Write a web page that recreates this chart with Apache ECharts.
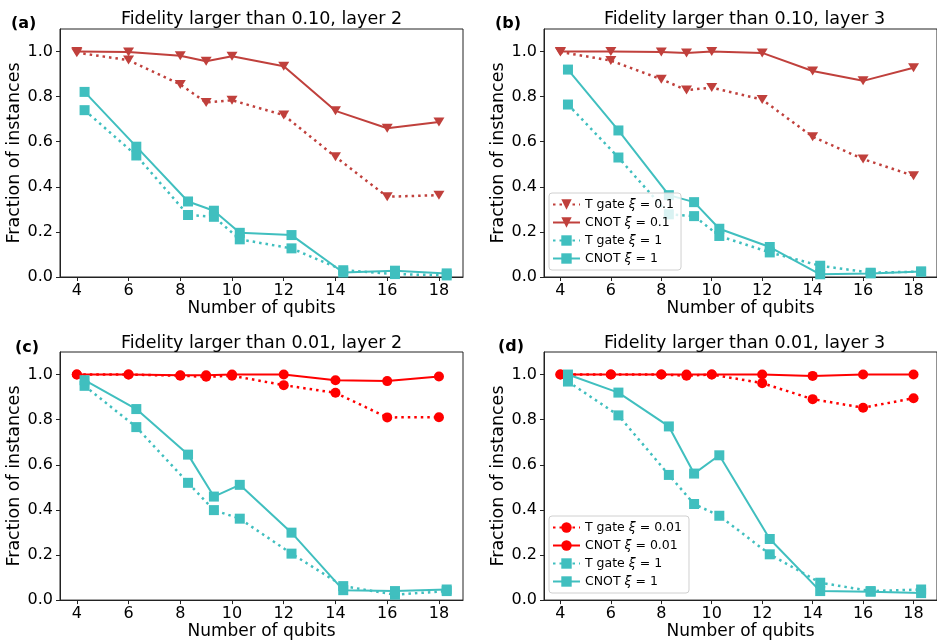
<!DOCTYPE html>
<html>
<head>
<meta charset="utf-8">
<script src="https://cdn.jsdelivr.net/npm/echarts@6/dist/echarts.min.js"></script>
<style>
  html, body { margin: 0; padding: 0; background: #fff; }
  #chart { width: 937px; height: 641px; }
</style>
</head>
<body>
<div id="chart"></div>
<script>
// x positions: red markers sit on the qubit count, teal ones are shifted a bit right
var qubits = [4, 6, 8, 9, 10, 12, 14, 16, 18]
var qubitsShifted = [4.3, 6.3, 8.3, 9.3, 10.3, 12.3, 14.3, 16.3, 18.3]

var xTicks = [4, 6, 8, 10, 12, 14, 16, 18]
var yTicks = [0, 0.2, 0.4, 0.6, 0.8, 1.0]

// (a) fidelity > 0.10, layer 2
var aTgateRed = [0.995, 0.962, 0.854, 0.774, 0.784, 0.718, 0.533, 0.356, 0.363]
var aCnotRed = [1.0, 0.998, 0.981, 0.957, 0.979, 0.935, 0.737, 0.660, 0.687]
var aTgateTeal = [0.740, 0.539, 0.275, 0.267, 0.167, 0.127, 0.030, 0.013, 0.007]
var aCnotTeal = [0.821, 0.578, 0.335, 0.294, 0.196, 0.186, 0.020, 0.028, 0.016]

// (b) fidelity > 0.10, layer 3
var bTgateRed = [0.998, 0.960, 0.877, 0.829, 0.840, 0.787, 0.622, 0.523, 0.449]
var bCnotRed = [1.0, 1.0, 0.998, 0.994, 1.0, 0.994, 0.914, 0.870, 0.928]
var bTgateTeal = [0.765, 0.530, 0.278, 0.270, 0.182, 0.109, 0.050, 0.019, 0.024]
var bCnotTeal = [0.920, 0.650, 0.363, 0.332, 0.214, 0.133, 0.012, 0.016, 0.024]

// (c) fidelity > 0.01, layer 2
var cTgateRed = [1.0, 1.0, 0.995, 0.990, 0.995, 0.953, 0.919, 0.810, 0.811]
var cCnotRed = [1.0, 1.0, 0.997, 0.997, 1.0, 1.0, 0.975, 0.971, 0.991]
var cTgateTeal = [0.950, 0.767, 0.520, 0.399, 0.361, 0.206, 0.062, 0.024, 0.040]
var cCnotTeal = [0.975, 0.847, 0.645, 0.459, 0.511, 0.299, 0.044, 0.040, 0.047]

// (d) fidelity > 0.01, layer 3
var dTgateRed = [1.0, 1.0, 1.0, 0.995, 1.0, 0.962, 0.891, 0.853, 0.895]
var dCnotRed = [1.0, 1.0, 1.0, 1.0, 1.0, 1.0, 0.994, 1.0, 1.0]
var dTgateTeal = [0.969, 0.819, 0.555, 0.426, 0.374, 0.203, 0.077, 0.040, 0.047]
var dCnotTeal = [1.0, 0.920, 0.770, 0.561, 0.642, 0.271, 0.040, 0.037, 0.031]

var titles = [
  'Fidelity larger than 0.10, layer 2',
  'Fidelity larger than 0.10, layer 3',
  'Fidelity larger than 0.01, layer 2',
  'Fidelity larger than 0.01, layer 3'
]
var panelLabels = ['(a)', '(b)', '(c)', '(d)']

var FONT = 'DejaVu Sans'
var BROWN_RED = '#c0403c'
var RED = '#ff0000'
var TEAL = '#40bfbf'

// panel boxes in pixels (right column runs past the picture edge, as in the original)
var boxes = [
  {left: 60, top: 29, width: 403, height: 248},
  {left: 544, top: 29, width: 401, height: 248},
  {left: 60, top: 352, width: 403, height: 249},
  {left: 544, top: 352, width: 401, height: 249}
]

function zip (xs, ys) {
  return xs.map(function (x, i) { return [x, ys[i]] })
}

function makeSeries (idx, name, xs, ys, color, symbol, dotted) {
  return {
    type: 'line',
    name: name,
    xAxisIndex: idx,
    yAxisIndex: idx,
    data: zip(xs, ys),
    symbol: symbol === 'tri' ? 'triangle' : symbol,
    symbolSize: symbol === 'tri' ? [11, 9] : 10,
    symbolRotate: symbol === 'tri' ? 180 : 0,
    showAllSymbol: true,
    color: color,
    itemStyle: {color: color, opacity: 1},
    lineStyle: dotted
      ? {color: color, width: 2.5, type: [2.5, 4]}
      : {color: color, width: 2, type: 'solid'},
    emphasis: {disabled: true},
    animation: false
  }
}

var series = []
var panelData = [
  [aTgateRed, aCnotRed, aTgateTeal, aCnotTeal],
  [bTgateRed, bCnotRed, bTgateTeal, bCnotTeal],
  [cTgateRed, cCnotRed, cTgateTeal, cCnotTeal],
  [dTgateRed, dCnotRed, dTgateTeal, dCnotTeal]
]
panelData.forEach(function (d, i) {
  var top = i < 2
  var redColor = top ? BROWN_RED : RED
  var redSym = top ? 'tri' : 'circle'
  var xi = top ? '0.1' : '0.01'
  series.push(makeSeries(i, 'T gate ξ = ' + xi, qubits, d[0], redColor, redSym, true))
  series.push(makeSeries(i, 'CNOT ξ = ' + xi, qubits, d[1], redColor, redSym, false))
  series.push(makeSeries(i, 'T gate ξ = 1', qubitsShifted, d[2], TEAL, 'rect', true))
  series.push(makeSeries(i, 'CNOT ξ = 1', qubitsShifted, d[3], TEAL, 'rect', false))
})

var grids = boxes.map(function (b) {
  return {
    left: b.left, top: b.top, width: b.width, height: b.height,
    show: true, borderColor: '#222', borderWidth: 1, backgroundColor: 'transparent'
  }
})

var xAxes = boxes.map(function (b, i) {
  return {
    type: 'value', gridIndex: i, min: 3.35, max: 18.93,
    name: 'Number of qubits', nameLocation: 'middle', nameGap: 21,
    nameTextStyle: {fontFamily: FONT, fontSize: 17, color: '#000'},
    axisLine: {show: true, onZero: false, lineStyle: {color: '#222', width: 1}},
    axisTick: {show: true, length: 4, lineStyle: {color: '#222'}, customValues: xTicks},
    axisLabel: {fontFamily: FONT, fontSize: 16, color: '#000', margin: 6, customValues: xTicks},
    splitLine: {show: false}
  }
})

var yAxes = boxes.map(function (b, i) {
  return {
    type: 'value', gridIndex: i, min: 0, max: 1.1,
    name: 'Fraction of instances', nameLocation: 'middle', nameGap: 30, nameRotate: 90,
    nameTextStyle: {fontFamily: FONT, fontSize: 17.5, color: '#000'},
    axisLine: {show: true, lineStyle: {color: '#222', width: 1}},
    axisTick: {show: true, length: 4, lineStyle: {color: '#222'}, customValues: yTicks},
    axisLabel: {
      fontFamily: FONT, fontSize: 16, color: '#000', margin: 7, customValues: yTicks,
      formatter: function (v) { return v.toFixed(1) }
    },
    splitLine: {show: false}
  }
})

var titleList = []
boxes.forEach(function (b, i) {
  titleList.push({
    text: titles[i],
    left: b.left + b.width / 2,
    top: i < 2 ? 10 : 334,
    padding: 0,
    textAlign: 'center',
    textStyle: {fontFamily: FONT, fontSize: 17.5, fontWeight: 'normal', color: '#000'}
  })
  titleList.push({
    text: panelLabels[i],
    left: [11, 495, 15, 498][i],
    top: [16, 16, 340, 339][i],
    padding: 0,
    textStyle: {fontFamily: FONT, fontSize: 16, fontWeight: 'bold', color: '#000'}
  })
})

function legendFor (top, xi) {
  return {
    orient: 'vertical',
    left: 549,
    top: top,
    data: ['T gate ξ = ' + xi, 'CNOT ξ = ' + xi, 'T gate ξ = 1', 'CNOT ξ = 1'],
    itemWidth: 27,
    itemHeight: 13,
    itemGap: 5,
    padding: [5, 7, 5, 3],
    borderColor: '#d0d0d0',
    borderWidth: 1,
    borderRadius: 3,
    backgroundColor: 'rgba(255,255,255,0.8)',
    selectedMode: false,
    formatter: function (name) { return name.replace('ξ', '{i|ξ}') },
    textStyle: {
      fontFamily: FONT, fontSize: 12.5, color: '#000',
      rich: {i: {fontFamily: FONT, fontStyle: 'italic', fontSize: 12.5, color: '#000'}}
    }
  }
}

var myChart = echarts.init(document.getElementById('chart'), null, {renderer: 'canvas'})
var option = {
  backgroundColor: '#fff',
  animation: false,
  title: titleList,
  grid: grids,
  xAxis: xAxes,
  yAxis: yAxes,
  legend: [legendFor(193, '0.1'), legendFor(516, '0.01')],
  series: series
}
myChart.setOption(option)
</script>
</body>
</html>
